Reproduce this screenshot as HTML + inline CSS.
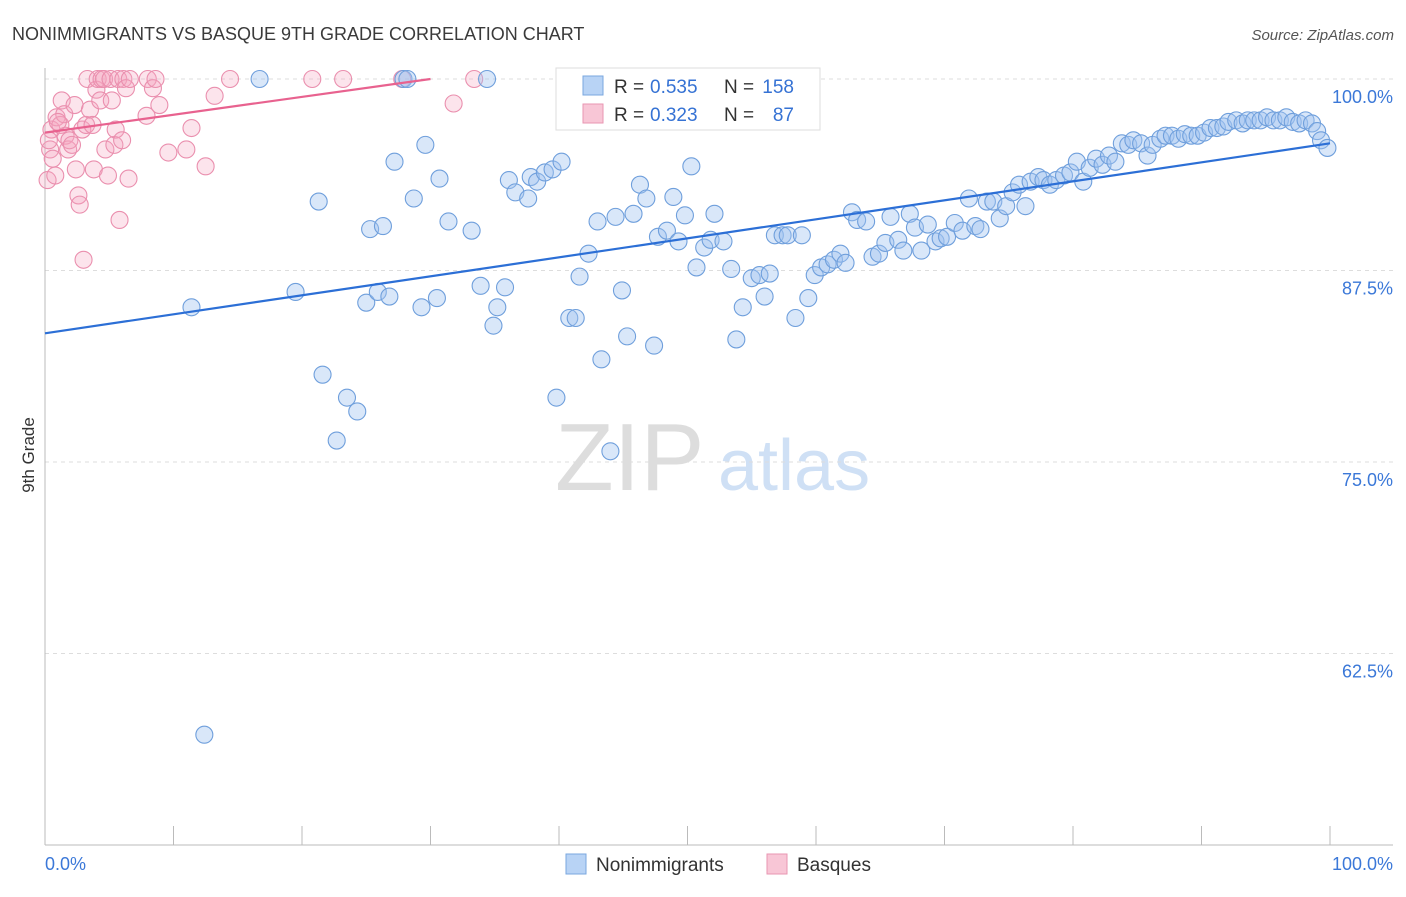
<!DOCTYPE html>
<html><head><meta charset="utf-8"><style>
body{margin:0;background:#fff;font-family:"Liberation Sans",sans-serif}
svg text{font-family:"Liberation Sans",sans-serif}
</style></head><body>
<svg id="chart" width="1406" height="892" xmlns="http://www.w3.org/2000/svg">
<text x="12" y="40" font-size="18" fill="#3a3a3a">NONIMMIGRANTS VS BASQUE 9TH GRADE CORRELATION CHART</text>
<text x="1394" y="40" font-size="15" fill="#555" text-anchor="end" font-style="italic">Source: ZipAtlas.com</text>
<g>
<text x="555" y="490" font-size="96" fill="#ddd" font-family="Liberation Serif" >ZIP</text>
<text x="718" y="490" font-size="72" fill="#cfe0f5">atlas</text>
</g>
<g id="grid"></g><g id="axes"></g><g id="marks"></g>
<text transform="translate(34,455) rotate(-90)" font-size="17" fill="#333" text-anchor="middle">9th Grade</text>
<g>
<rect x="556" y="68" width="264" height="62" fill="#fff" stroke="#ddd"/>
<rect x="583" y="76" width="20" height="19" fill="#b8d3f5" stroke="#7aa7df"/>
<rect x="583" y="104" width="20" height="19" fill="#f8c6d6" stroke="#e896b2"/>
<text x="614" y="93" font-size="19" fill="#333">R =</text>
<text x="650" y="93" font-size="19" fill="#3572d4">0.535</text>
<text x="724" y="93" font-size="19" fill="#333">N =</text>
<text x="794" y="93" font-size="19" fill="#3572d4" text-anchor="end">158</text>
<text x="614" y="121" font-size="19" fill="#333">R =</text>
<text x="650" y="121" font-size="19" fill="#3572d4">0.323</text>
<text x="724" y="121" font-size="19" fill="#333">N =</text>
<text x="794" y="121" font-size="19" fill="#3572d4" text-anchor="end">87</text>
</g>
<g>
<rect x="566" y="854" width="20" height="20" fill="#b8d3f5" stroke="#7aa7df"/>
<text x="596" y="871" font-size="19" fill="#333">Nonimmigrants</text>
<rect x="767" y="854" width="20" height="20" fill="#f8c6d6" stroke="#e896b2"/>
<text x="797" y="871" font-size="19" fill="#333">Basques</text>
</g>
</svg>
<script>
const blueX=[11.4,16.7,19.5,21.3,21.6,22.7,23.5,24.3,25.0,25.3,25.9,26.3,26.8,27.2,27.9,28.2,28.7,29.3,29.6,30.5,30.7,31.4,33.2,33.9,34.4,34.9,35.2,35.8,36.1,36.6,37.6,37.8,38.3,38.9,39.5,39.8,40.2,40.8,41.3,41.6,42.3,43.0,43.3,44.0,44.4,44.9,45.3,45.8,46.3,46.8,47.4,47.7,48.4,48.9,49.3,49.8,50.3,50.7,51.3,51.8,52.1,52.8,53.4,53.8,54.3,55.0,55.6,56.0,56.4,56.8,57.4,57.8,58.4,58.9,59.4,59.9,60.4,60.9,61.4,61.9,62.3,62.8,63.2,63.9,64.4,64.9,65.4,65.8,66.4,66.8,67.3,67.7,68.2,68.7,69.3,69.7,70.2,70.8,71.4,71.9,72.4,72.8,73.3,73.8,74.3,74.8,75.3,75.8,76.3,76.7,77.3,77.7,78.2,78.7,79.3,79.8,80.3,80.8,81.3,81.8,82.3,82.8,83.3,83.8,84.3,84.7,85.3,85.8,86.2,86.8,87.2,87.7,88.2,88.7,89.2,89.7,90.2,90.7,91.2,91.7,92.1,92.7,93.2,93.6,94.1,94.6,95.1,95.6,96.1,96.6,97.1,97.6,98.1,98.6,99.0,99.3,99.8,12.4];
const blueY=[85.1,100,86.1,92.0,80.7,76.4,79.2,78.3,85.4,90.2,86.1,90.4,85.8,94.6,100,100,92.2,85.1,95.7,85.7,93.5,90.7,90.1,86.5,100,83.9,85.1,86.4,93.4,92.6,92.2,93.6,93.3,93.9,94.1,79.2,94.6,84.4,84.4,87.1,88.6,90.7,81.7,75.7,91.0,86.2,83.2,91.2,93.1,92.2,82.6,89.7,90.1,92.3,89.4,91.1,94.3,87.7,89.0,89.5,91.2,89.4,87.6,83.0,85.1,87.0,87.2,85.8,87.3,89.8,89.8,89.8,84.4,89.8,85.7,87.2,87.7,87.9,88.2,88.6,88.0,91.3,90.8,90.7,88.4,88.6,89.3,91.0,89.5,88.8,91.2,90.3,88.8,90.5,89.4,89.6,89.7,90.6,90.1,92.2,90.4,90.2,92.0,92.0,90.9,91.7,92.6,93.1,91.7,93.3,93.6,93.4,93.1,93.4,93.7,93.9,94.6,93.3,94.2,94.8,94.4,95.0,94.6,95.8,95.7,96.0,95.8,95.0,95.7,96.1,96.3,96.3,96.1,96.4,96.3,96.3,96.5,96.8,96.8,96.9,97.2,97.3,97.1,97.3,97.3,97.3,97.5,97.3,97.3,97.5,97.2,97.1,97.3,97.1,96.6,96.0,95.5,57.2];
const pinkX=[0.2,0.4,0.5,0.8,0.9,1.2,1.3,1.5,1.6,1.8,1.9,2.1,2.3,2.4,2.6,2.7,2.9,3.0,3.2,3.3,3.5,3.7,3.8,4.0,4.1,4.3,4.4,4.6,4.7,4.9,5.1,5.2,5.4,5.5,5.7,5.8,6.0,6.1,6.3,6.5,6.6,7.9,8.0,8.4,8.6,8.9,9.6,11.0,11.4,12.5,13.2,14.4,20.8,23.2,27.8,31.8,33.4,0.3,1.0,0.6];
const pinkY=[93.4,95.4,96.7,93.7,97.5,97.0,98.6,97.7,96.3,95.4,96.0,95.7,98.3,94.1,92.4,91.8,96.7,88.2,97.0,100,98.0,97.0,94.1,99.3,100,98.6,100,100,95.4,93.7,100,98.6,95.7,96.7,100,90.8,96.0,100,99.4,93.5,100,97.6,100,99.4,100,98.3,95.2,95.4,96.8,94.3,98.9,100,100,100,100,98.4,100,96.0,97.2,94.8];
const blueTrend=[83.4,95.8];
const pinkTrend=[96.5,100];
const pinkTrendEnd=30;
const yTicks=[100,87.5,75,62.5];
const yTickLabels=["100.0%","87.5%","75.0%","62.5%"];
const xTickVals=[0,10,20,30,40,50,60,70,80,90,100];
const xs=v=>45+v*12.85, ys=v=>79+(100-v)*15.32;
const NS="http://www.w3.org/2000/svg";
function mk(t,a,p){const e=document.createElementNS(NS,t);for(const k in a)e.setAttribute(k,a[k]);p.appendChild(e);return e;}
const grid=document.getElementById('grid'),axes=document.getElementById('axes'),marks=document.getElementById('marks');
yTicks.forEach((v,i)=>{
 const l=mk('line',{x1:45,x2:1393,y1:ys(v),y2:ys(v),stroke:'#ddd','stroke-dasharray':'4,4'},grid);
 
 
 const t=mk('text',{x:1393,y:ys(v)+24,'font-size':18,fill:'#3b78d8','text-anchor':'end'},axes);
 t.textContent=yTickLabels[i];
 
 
});
const ax=mk('line',{x1:45,x2:1393,y1:845,y2:845,stroke:'#bbb'},axes);


const ay=mk('line',{x1:45,x2:45,y1:68,y2:845,stroke:'#bbb'},axes);


xTickVals.forEach(v=>{const t=mk('line',{x1:xs(v),x2:xs(v),y1:826,y2:845,stroke:'#bbb'},axes);
 
 });
[[0,'start','0.0%',45],[100,'end','100.0%',1393]].forEach(d=>{const t=mk('text',{x:d[3],y:870,'font-size':18,fill:'#3b78d8','text-anchor':d[1]},axes);t.textContent=d[2];
 
 });
pinkX.forEach((x,i)=>{const c=mk('circle',{cx:xs(x),cy:ys(pinkY[i]),r:8.5,fill:'rgba(244,165,192,0.3)',stroke:'#ea8fae','stroke-width':1.1},marks);
 
 });
blueX.forEach((x,i)=>{const c=mk('circle',{cx:xs(x),cy:ys(blueY[i]),r:8.5,fill:'rgba(160,196,240,0.4)',stroke:'#6f9fdc','stroke-width':1.1},marks);
 
 });
const bt=mk('line',{x1:xs(0),y1:ys(blueTrend[0]),x2:xs(100),y2:ys(blueTrend[1]),stroke:'#2c6fd6','stroke-width':2.2},marks);


const pt=mk('line',{x1:xs(0),y1:ys(pinkTrend[0]),x2:xs(pinkTrendEnd),y2:ys(pinkTrend[1]),stroke:'#e8628f','stroke-width':2.2},marks);


</script>
</body></html>
